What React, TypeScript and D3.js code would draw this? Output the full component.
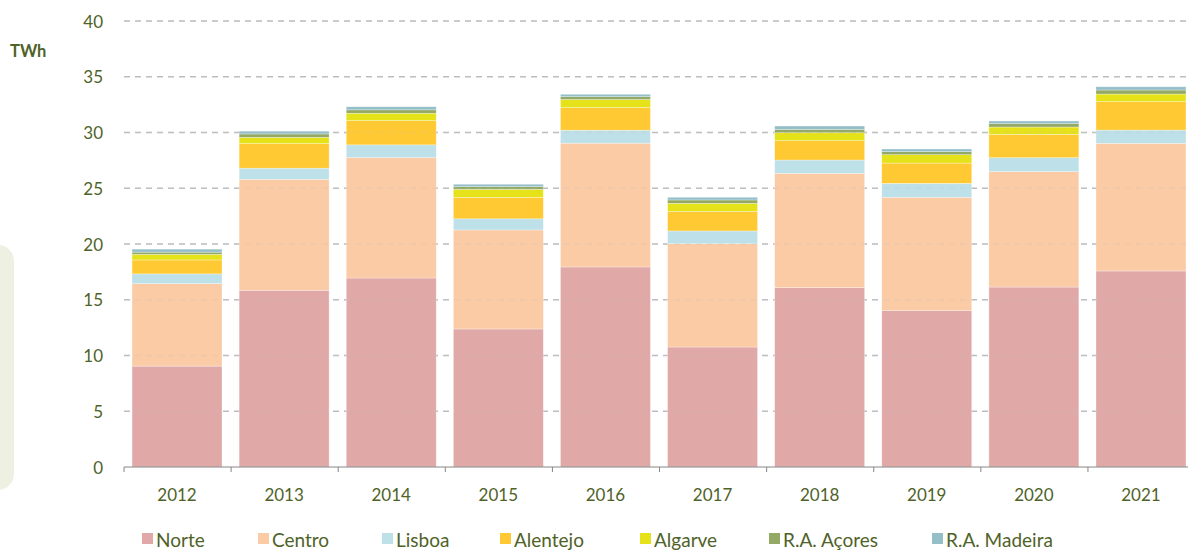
import React from "react";
import * as d3 from "d3";

const years = ["2012", "2013", "2014", "2015", "2016", "2017", "2018", "2019", "2020", "2021"];
const regions = ["Norte", "Centro", "Lisboa", "Alentejo", "Algarve", "R.A. Açores", "R.A. Madeira"];
const colors = ["#E0A9A8", "#FACBA5", "#BEE0E8", "#FFC933", "#E6E21A", "#93A965", "#94BFC9"];

// TWh per region, one value per year
const norte = [9.05, 15.85, 16.95, 12.38, 17.94, 10.76, 16.08, 14.02, 16.14, 17.58];
const centro = [7.4, 9.95, 10.8, 8.88, 11.1, 9.27, 10.26, 10.17, 10.35, 11.45];
const lisboa = [0.87, 1.0, 1.14, 1.0, 1.17, 1.14, 1.19, 1.25, 1.25, 1.19];
const alentejo = [1.25, 2.2, 2.18, 1.92, 2.03, 1.76, 1.74, 1.82, 2.1, 2.55];
const algarve = [0.5, 0.57, 0.66, 0.72, 0.72, 0.72, 0.71, 0.75, 0.65, 0.68];
const acores = [0.2, 0.3, 0.3, 0.24, 0.25, 0.3, 0.3, 0.27, 0.3, 0.36];
const madeira = [0.27, 0.25, 0.28, 0.22, 0.22, 0.24, 0.3, 0.24, 0.24, 0.29];
const yTicks = [0, 5, 10, 15, 20, 25, 30, 35, 40];

const series = [norte, centro, lisboa, alentejo, algarve, acores, madeira];

const W = 1188;
const H = 550;
const textColor = "#4F6228";
const font = "Lato, 'Open Sans', sans-serif";

const App = () => {
  const rows = years.map((y, i) => {
    const r: any = { year: y };
    regions.forEach((k, j) => (r[k] = series[j][i]));
    return r;
  });
  const stacked = d3.stack().keys(regions)(rows);

  const xScale = d3.scaleBand().domain(years).range([124, 1194]).paddingInner(0.16).paddingOuter(0.075);
  const yScale = d3.scaleLinear().domain([0, 40]).range([467, 21]);
  const step = xScale.step();
  const start = xScale.range()[0];

  const grid = (opacity: number) =>
    yTicks.filter(t => t > 0).map(t => (
      <line
        key={`g${t}`}
        x1={124}
        x2={W}
        y1={yScale(t)}
        y2={yScale(t)}
        stroke="#BFBFBF"
        strokeWidth={1.5}
        strokeDasharray="6,5"
        opacity={opacity}
      />
    ));

  const legendX = [142, 258, 382, 500, 640, 769, 932];

  return (
    <div style={{ position: "absolute", left: 0, top: 0 }}>
      <svg width={W} height={H} style={{ display: "block" }}>
        <rect x={-20} y={245} width={34} height={245} rx={16} fill="#EEF1E2" />
        <text x={10} y={57} fill={textColor} fontFamily={font} fontWeight="bold" fontSize={16.5}>
          TWh
        </text>
        {grid(1)}
        {yTicks.map(t => (
          <text
            key={`t${t}`}
            x={103}
            y={yScale(t)}
            textAnchor="end"
            dominantBaseline="central"
            fill={textColor}
            fontFamily={font}
            fontSize={17}
          >
            {t}
          </text>
        ))}
        <g className="plotLayer">
          {stacked.map((s, j) =>
            s.map((d: any, i) => (
              <rect
                key={`${j}-${i}`}
                x={xScale(years[i])}
                width={xScale.bandwidth()}
                y={yScale(d[1])}
                height={yScale(d[0]) - yScale(d[1])}
                fill={colors[j]}
                stroke="#ffffff"
                strokeOpacity={0.5}
                strokeWidth={0.6}
              />
            ))
          )}
        </g>
        {grid(0.18)}
        <line x1={124} x2={W} y1={467} y2={467} stroke="#868686" strokeWidth={1} />
        {d3.range(years.length + 1).map(i => (
          <line
            key={`xt${i}`}
            x1={start + i * step}
            x2={start + i * step}
            y1={467}
            y2={472}
            stroke="#868686"
            strokeWidth={1}
          />
        ))}
        {years.map(y => (
          <text
            key={`x${y}`}
            x={(xScale(y) as number) + xScale.bandwidth() / 2}
            y={494}
            textAnchor="middle"
            dominantBaseline="central"
            fill={textColor}
            fontFamily={font}
            fontSize={17}
          >
            {y}
          </text>
        ))}
        {regions.map((r, j) => (
          <g key={r} transform={`translate(${legendX[j]},539)`}>
            <rect x={0} y={-6} width={11} height={11} fill={colors[j]} />
            <text x={14} y={0} dominantBaseline="central" fill={textColor} fontFamily={font} fontSize={19}>
              {r}
            </text>
          </g>
        ))}
      </svg>
    </div>
  );
};

export default App;
